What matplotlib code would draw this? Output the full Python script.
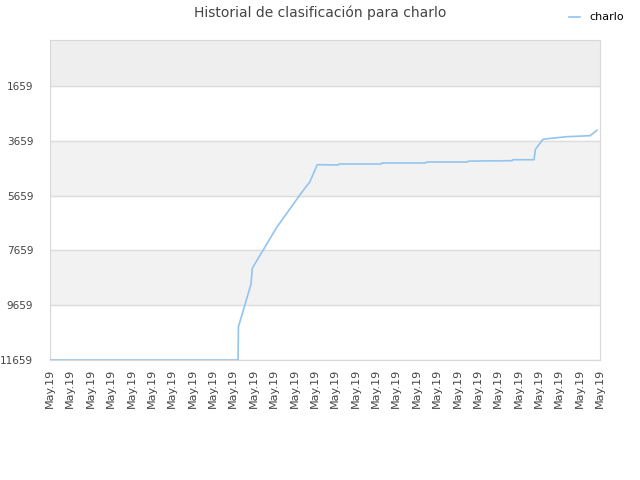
import numpy as np
import matplotlib.pyplot as plt

# posiciones (indice de fecha, fraccional) y clasificacion
day_pos = [0, 9.23, 9.25, 9.87, 9.93, 11.13, 12.36, 12.76, 13.12, 14.14, 14.19,
           16.25, 16.3, 18.41, 18.51, 20.47, 20.57, 22.68, 22.73, 23.76, 23.83,
           24.2, 24.6, 25.38, 26.51, 26.85]
rank = [11659, 11659, 10444, 8885, 8312, 6816, 5539, 5152, 4530, 4542, 4506,
        4506, 4469, 4469, 4433, 4433, 4400, 4385, 4349, 4349, 3969,
        3604, 3568, 3509, 3473, 3276]
tick_labels = ["May.19"] * 28
y_ticks = [1659, 3659, 5659, 7659, 9659, 11659]

fig = plt.figure(figsize=(6.4, 4.8), dpi=100)
ax = fig.add_axes([50 / 640, 120 / 480, 550 / 640, 320 / 480])

y_top = -20
ax.set_ylim(11659, y_top)
ax.set_xlim(0, 27)

# bandas de fondo
ax.axhspan(y_top, 1659, color="#eeeeee", zorder=0)
for i in range(len(y_ticks) - 1):
    if i % 2 == 1:
        ax.axhspan(y_ticks[i], y_ticks[i + 1], color="#f2f2f2", zorder=0)

ax.plot(day_pos, rank, color="#93c4ef", linewidth=1.2, label="charlo", zorder=3)

ax.set_yticks(y_ticks)
ax.set_yticklabels([str(v) for v in y_ticks])
ax.set_xticks(range(len(tick_labels)))
ax.set_xticklabels(tick_labels, rotation=90)
ax.tick_params(axis="both", length=0, labelsize=8, colors="#444444")
ax.tick_params(axis="y", pad=12, labelsize=7.5)
ax.tick_params(axis="x", pad=6)
ax.yaxis.grid(True, color="#dddddd", linewidth=1)
ax.set_axisbelow(True)
for s in ax.spines.values():
    s.set_color("#d8d8d8")

fig.text(0.5, 0.974, "Historial de clasificación para charlo", ha="center", va="center",
         fontsize=10, color="#444444")
fig.legend(loc="upper right", bbox_to_anchor=(0.99, 0.995), frameon=False, fontsize=8,
           handlelength=1.0, handletextpad=0.8)

plt.savefig("out.png")
